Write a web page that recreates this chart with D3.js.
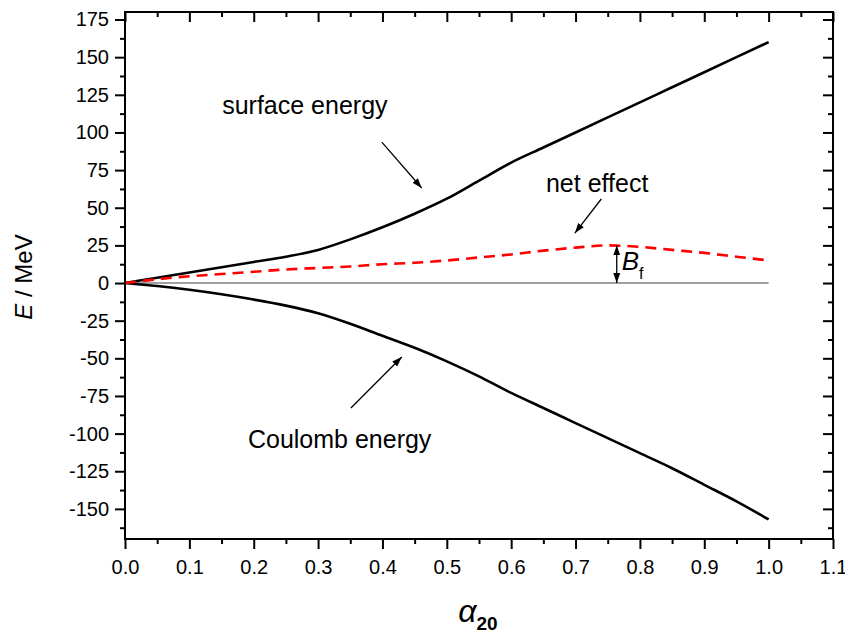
<!DOCTYPE html>
<html>
<head>
<meta charset="utf-8">
<script src="https://cdn.jsdelivr.net/npm/d3@7"></script>
<style>
  body { margin: 0; background: #fff; }
  svg text { font-family: "Liberation Sans", Arial, sans-serif; fill: #000; }
</style>
</head>
<body>
<div id="chart"></div>
<script>
// deformation parameter alpha_20
var alpha = [0, 0.05, 0.1, 0.15, 0.2, 0.25, 0.3, 0.35, 0.4, 0.45, 0.5,
             0.55, 0.6, 0.65, 0.7, 0.75, 0.8, 0.85, 0.9, 0.95, 1.0];
var surface = [0, 3.5, 7, 10.5, 14, 17.5, 22, 29, 37, 46, 56,
               68, 80, 90, 100, 110, 120, 130, 140, 150, 160];
var coulomb = [0, -2, -4.5, -7.5, -11, -15, -20, -27, -35, -43, -52,
               -62, -73, -83, -93, -103, -113, -123, -134, -145, -157];
var net = [0, 2.5, 4.5, 6, 7.5, 9, 10, 11, 12.5, 13.5, 15,
           17, 19, 21.5, 23.5, 25, 24, 22, 20, 17.5, 15];

var xTicks = [0, 0.1, 0.2, 0.3, 0.4, 0.5, 0.6, 0.7, 0.8, 0.9, 1.0, 1.1];
var yTicks = [-150, -125, -100, -75, -50, -25, 0, 25, 50, 75, 100, 125, 150, 175];

// annotations, in data units
var labels = [
    { text: 'surface energy', x: 0.151, y: 112 },
    { text: 'net effect',     x: 0.654, y: 60.5 },
    { text: 'Coulomb energy', x: 0.191, y: -109.5 }
];
var arrows = [
    { x1: 0.399, y1: 93.6, x2: 0.461, y2: 63.1 },
    { x1: 0.740, y1: 55.8, x2: 0.699, y2: 33.2 },
    { x1: 0.351, y1: -83,  x2: 0.430, y2: -49.1 }
];
var barrier = { x: 0.764, top: 25, bottom: 0 };

var width = 845,
    height = 633,
    plotLeft = 125, plotRight = 833, plotTop = 12, plotBottom = 539,
    major = 10, minor = 5;

var svg = d3.select('#chart').append('svg')
    .attr('width', width)
    .attr('height', height);

var x = d3.scaleLinear().domain([0, 1.1]).range([plotLeft, plotRight]);
var y = d3.scaleLinear().domain([-170, 180]).range([plotBottom, plotTop]);

var xMinor = xTicks.slice(0, -1).map(function(d) { return +(d + 0.05).toFixed(2); });
var yMinor = d3.range(-162.5, 180, 25);

svg.append('defs').append('marker')
    .attr('id', 'head')
    .attr('viewBox', '0 0 10 10')
    .attr('refX', 10).attr('refY', 5)
    .attr('markerWidth', 10).attr('markerHeight', 10)
    .attr('markerUnits', 'userSpaceOnUse')
    .attr('orient', 'auto-start-reverse')
  .append('path')
    .attr('d', 'M0,1.5 L10,5 L0,8.5 Z')
    .attr('fill', '#000');

// zero line
svg.append('line')
    .attr('x1', x(0)).attr('x2', x(1.0))
    .attr('y1', y(0)).attr('y2', y(0))
    .attr('stroke', '#808080')
    .attr('stroke-width', 1.5);

var line = d3.line()
    .x(function(d) { return x(d[0]); })
    .y(function(d) { return y(d[1]); })
    .curve(d3.curveMonotoneX);

function pairs(vals) { return alpha.map(function(a, i) { return [a, vals[i]]; }); }

svg.append('path').datum(pairs(surface))
    .attr('d', line).attr('fill', 'none')
    .attr('stroke', '#000').attr('stroke-width', 2.6);
svg.append('path').datum(pairs(coulomb))
    .attr('d', line).attr('fill', 'none')
    .attr('stroke', '#000').attr('stroke-width', 2.6);
svg.append('path').datum(pairs(net))
    .attr('d', line).attr('fill', 'none')
    .attr('stroke', '#ff0000').attr('stroke-width', 2.6)
    .attr('stroke-dasharray', '11,7');

// axes: outward ticks left/bottom, inward mirrored ticks top/right
function drawAxis(axis, tr, vals, size, labelled) {
    var g = svg.append('g').attr('transform', tr);
    axis.tickValues(vals).tickSizeOuter(0).tickSizeInner(size);
    if (!labelled) axis.tickFormat('');
    g.call(axis);
    g.select('.domain').remove();
    g.selectAll('line').attr('stroke', '#000').attr('stroke-width', 2);
    g.selectAll('text').style('font-size', '20px').attr('fill', '#000');
    return g;
}

drawAxis(d3.axisBottom(x).tickFormat(d3.format('.1f')).tickPadding(11),
    'translate(0,' + plotBottom + ')', xTicks, major, true);
drawAxis(d3.axisBottom(x), 'translate(0,' + plotBottom + ')', xMinor, minor, false);
drawAxis(d3.axisLeft(y).tickFormat(function(d) { return String(d); }).tickPadding(6),
    'translate(' + plotLeft + ',0)', yTicks, major, true);
drawAxis(d3.axisLeft(y), 'translate(' + plotLeft + ',0)', yMinor, minor, false);
drawAxis(d3.axisTop(x), 'translate(0,' + plotTop + ')', xTicks, -major, false);
drawAxis(d3.axisTop(x), 'translate(0,' + plotTop + ')', xMinor, -minor, false);
drawAxis(d3.axisRight(y), 'translate(' + plotRight + ',0)', yTicks, -major, false);
drawAxis(d3.axisRight(y), 'translate(' + plotRight + ',0)', yMinor, -minor, false);

svg.append('rect')
    .attr('x', plotLeft).attr('y', plotTop)
    .attr('width', plotRight - plotLeft).attr('height', plotBottom - plotTop)
    .attr('fill', 'none')
    .attr('stroke', '#000')
    .attr('stroke-width', 2);

// annotations
svg.selectAll('.label').data(labels).enter().append('text')
    .attr('class', 'label')
    .attr('x', function(d) { return x(d.x); })
    .attr('y', function(d) { return y(d.y); })
    .style('font-size', '25px')
    .text(function(d) { return d.text; });

svg.selectAll('.arrow').data(arrows).enter().append('line')
    .attr('class', 'arrow')
    .attr('x1', function(d) { return x(d.x1); })
    .attr('y1', function(d) { return y(d.y1); })
    .attr('x2', function(d) { return x(d.x2); })
    .attr('y2', function(d) { return y(d.y2); })
    .attr('stroke', '#000')
    .attr('stroke-width', 1.3)
    .attr('marker-end', 'url(#head)');

svg.append('line')
    .attr('x1', x(barrier.x)).attr('x2', x(barrier.x))
    .attr('y1', y(barrier.top)).attr('y2', y(barrier.bottom))
    .attr('stroke', '#000')
    .attr('stroke-width', 1.3)
    .attr('marker-start', 'url(#head)')
    .attr('marker-end', 'url(#head)');

var bf = svg.append('text')
    .attr('x', x(barrier.x) + 5)
    .attr('y', y(8.6))
    .style('font-size', '26px');
bf.append('tspan').style('font-style', 'italic').text('B');
bf.append('tspan').attr('dy', 9).style('font-size', '16px').text('f');

// axis titles
var yt = svg.append('text')
    .attr('transform', 'translate(32,' + 277 + ') rotate(-90)')
    .attr('text-anchor', 'middle')
    .style('font-size', '24px');
yt.append('tspan').style('font-style', 'italic').text('E');
yt.append('tspan').text(' / MeV');

var xt = svg.append('text')
    .attr('x', 478)
    .attr('y', 622)
    .attr('text-anchor', 'middle');
xt.append('tspan').style('font-style', 'italic').style('font-size', '32px').text('α');
xt.append('tspan').attr('dy', 8).style('font-size', '19px').style('font-weight', 'bold').text('20');
</script>
</body>
</html>
